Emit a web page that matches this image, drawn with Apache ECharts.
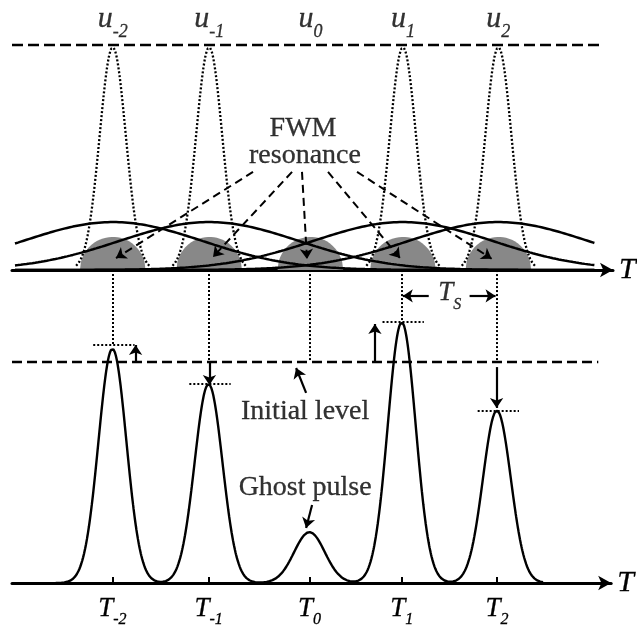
<!DOCTYPE html>
<html>
<head>
<meta charset="utf-8">
<script src="https://cdn.jsdelivr.net/npm/echarts@6/dist/echarts.min.js"></script>
<style>
  html, body { margin: 0; padding: 0; background: #fff; }
  #chart { width: 637px; height: 629px; }
</style>
</head>
<body>
<div id="chart"></div>
<script>
// slot positions on the T axis (in units of Ts) and their subscripts
const slots = [-2.01, -1.01, 0.04, 1.0, 1.99];
const subs = ['-2', '-1', '0', '1', '2'];

// input pulses u_k, normalised to the upper dashed level (u_0 is empty)
const inputPeaks = [0.99, 0.99, null, 0.99, 0.99];
const inputWidth = 0.135;
// broad pulses under the input train
const broadPeak = 0.213;
const broadWidth = 0.93;
// grey FWM overlap regions
const fwmHeight = 0.147;
const fwmHalfWidth = 0.34;

// output pulses, normalised to the initial level
const outputPeaks = [1.06, 0.90, 0.23, 1.18, 0.78];
const outputWidths = [0.145, 0.145, 0.16, 0.145, 0.145];
const markerLevels = [1.08, 0.90, null, 1.18, 0.78];
const initialLevel = 1;

// annotations (T, level)
const fwmArrowStarts = [[-0.555, 0.436], [-0.15, 0.436], [-0.047, 0.436], [0.223, 0.436], [0.524, 0.436]];
const fwmArrowEnds = [[-1.976, 0.053], [-0.97, 0.058], [0.005, 0.049], [0.97, 0.053], [1.92, 0.05]];
const levelArrows = [[-1.769, 1.0, 1.077], [-1.001, 1.0, 0.896], [0.721, 1.0, 1.172], [1.987, 0.977, 0.792]];

const serif = 'Liberation Serif';
const xMin = -3.055, xMax = 3.179;
const levelSpan = [-3.055, 3.045];
const topAxisInBottom = 1.416; // top T axis, in lower panel units

function sample (from, to, step, fn) {
    let pts = [];
    for (let x = from; x <= to + 1e-9; x += step) {
        pts.push([+x.toFixed(4), fn(x)]);
    }
    return pts;
}
const gauss = (x, c, a, w) => a * Math.exp(-(x - c) * (x - c) / (2 * w * w));

// empty line series that only carries a group of markLines
function lineGroup (gi, lines, style, symbols, size) {
    return {
        type: 'line', xAxisIndex: gi, yAxisIndex: gi, data: [], symbol: 'none', silent: true,
        markLine: {
            silent: true, animation: false, symbol: symbols, symbolSize: size,
            label: { show: false }, emphasis: { disabled: true }, lineStyle: style,
            data: lines.map(([a, b]) => [{ coord: a }, { coord: b }])
        }
    };
}

function textGroup (gi, items, rich) {
    return {
        type: 'scatter', xAxisIndex: gi, yAxisIndex: gi, symbolSize: 0.1, silent: true,
        itemStyle: { color: 'transparent' },
        label: { show: true, position: 'inside', color: '#000', fontFamily: serif, rich: rich },
        data: items.map(([x, y, txt]) => ({ value: [x, y], label: { formatter: txt } })),
        z: 10
    };
}

// text styles; a thin black outline makes the serif glyphs as dark as the scan
const ink = { color: '#000', textBorderColor: '#000', textBorderWidth: 0.3, fontFamily: serif };
const rich = {
    n: Object.assign({ fontSize: 28 }, ink),
    u: Object.assign({ fontStyle: 'italic', fontSize: 30, padding: [0, 0, 7, 0], verticalAlign: 'bottom' }, ink),
    us: Object.assign({ fontStyle: 'italic', fontSize: 18, verticalAlign: 'bottom' }, ink),
    t: Object.assign({ fontStyle: 'italic', fontSize: 27, padding: [0, 0, 6, 0], verticalAlign: 'bottom' }, ink),
    ts: Object.assign({ fontStyle: 'italic', fontSize: 16, verticalAlign: 'bottom' }, ink)
};

let series = [];

// ---- upper panel ----
series.push({
    type: 'line', xAxisIndex: 0, yAxisIndex: 0, symbol: 'none', silent: true,
    data: [[levelSpan[0], 1], [levelSpan[1], 1]],
    lineStyle: { color: '#000', width: 2.5, type: [11, 5] }, z: 3
});

slots.forEach((c) => {
    series.push({
        type: 'line', xAxisIndex: 0, yAxisIndex: 0, symbol: 'none', silent: true,
        data: sample(c - fwmHalfWidth, c + fwmHalfWidth, 0.01,
            x => fwmHeight * Math.sqrt(Math.max(0, 1 - Math.pow((x - c) / fwmHalfWidth, 2)))),
        lineStyle: { width: 0 }, areaStyle: { color: '#888', opacity: 1 }, z: 1
    });
});

slots.forEach((c, i) => {
    if (inputPeaks[i] == null) {
        return;
    }
    series.push({
        type: 'line', xAxisIndex: 0, yAxisIndex: 0, symbol: 'none', silent: true,
        data: sample(-3.024, 2.993, 0.01, x => gauss(x, c, broadPeak, broadWidth)),
        lineStyle: { color: '#000', width: 2.5 }, z: 4
    });
    series.push({
        type: 'line', xAxisIndex: 0, yAxisIndex: 0, symbol: 'none', silent: true,
        data: sample(c - 0.38, c + 0.38, 0.005, x => gauss(x, c, inputPeaks[i], inputWidth)),
        lineStyle: { color: '#000', width: 2.3, type: [2, 2] }, z: 4
    });
});

series.push(lineGroup(0, fwmArrowStarts.map((s, i) => [s, fwmArrowEnds[i]]),
    { color: '#000', width: 2, type: [8, 5] }, ['none', 'arrow'], 10));

series.push(textGroup(0, [
    ...slots.map((c, i) => [c, 1.098, '{u|u}{us|' + subs[i] + '}']),
    [-0.036, 0.627, '{n|FWM}'],
    [-0.016, 0.507, '{n|resonance}']
], rich));

// ---- lower panel ----
series.push({
    type: 'line', xAxisIndex: 1, yAxisIndex: 1, symbol: 'none', silent: true,
    data: [[levelSpan[0], initialLevel], [levelSpan[1], initialLevel]],
    lineStyle: { color: '#000', width: 2.6, type: [10, 5] }, z: 3
});

series.push({
    type: 'line', xAxisIndex: 1, yAxisIndex: 1, symbol: 'none', silent: true,
    data: sample(-2.6, 2.47, 0.005,
        x => slots.reduce((s, c, i) => s + gauss(x, c, outputPeaks[i], outputWidths[i]), 0)),
    lineStyle: { color: '#000', width: 2.4 }, z: 4
});

// dotted guides from the upper axis, and level markers at the peaks
let guides = [];
slots.forEach((c, i) => {
    let stop = (i === 0 || i === 3) ? markerLevels[i] : initialLevel;
    guides.push([[c, topAxisInBottom], [c, stop]]);
    if (markerLevels[i] != null) {
        guides.push([[c - 0.2, markerLevels[i]], [c + 0.23, markerLevels[i]]]);
    }
});
series.push(lineGroup(1, guides, { color: '#000', width: 2, type: [2, 2] }, ['none', 'none'], 0));

series.push(lineGroup(1, levelArrows.map(([x, a, b]) => [[x, a], [x, b]]),
    { color: '#000', width: 2.2, type: 'solid' }, ['none', 'arrow'], 10));

series.push(lineGroup(1, [
    [[1.281, 1.299], [1.011, 1.299]],
    [[1.706, 1.299], [1.976, 1.299]],
    [[0.005, 0.86], [-0.099, 0.973]],
    [[0.067, 0.353], [0.005, 0.249]]
], { color: '#000', width: 2.2, type: 'solid' }, ['none', 'arrow'], 10));

series.push(textGroup(1, [
    [1.499, 1.299, '{t|T}{ts|S}'],
    [-0.005, 0.774, '{n|Initial level}'],
    [-0.005, 0.43, '{n|Ghost pulse}']
], rich));

const axisBase = {
    type: 'value', min: xMin, max: xMax,
    splitLine: { show: false },
    axisLine: {
        show: true, onZero: true, symbol: ['none', 'arrow'], symbolSize: [11, 13],
        lineStyle: { color: '#000', width: 3 }
    },
    name: 'T', nameLocation: 'end', nameGap: 6,
    nameTextStyle: { fontFamily: serif, fontStyle: 'italic', fontSize: 30, color: '#000', textBorderColor: '#000', textBorderWidth: 0.3 }
};

const option = {
    animation: false,
    backgroundColor: '#fff',
    grid: [
        { left: 12, right: 24, top: 0, height: 270 },
        { left: 12, right: 24, top: 0, height: 583 }
    ],
    xAxis: [
        Object.assign({}, axisBase, { gridIndex: 0, axisTick: { show: false }, axisLabel: { show: false } }),
        Object.assign({}, axisBase, {
            gridIndex: 1,
            axisTick: { show: true, inside: true, length: 6, customValues: slots, lineStyle: { color: '#000', width: 2 } },
            axisLabel: {
                show: true, margin: 12, customValues: slots, rich: rich,
                formatter: (v) => {
                    let i = slots.findIndex(c => Math.abs(c - v) < 0.02);
                    return i < 0 ? '' : '{t|T}{ts|' + subs[i] + '}';
                }
            }
        })
    ],
    yAxis: [
        { type: 'value', gridIndex: 0, min: 0, max: 1.2, show: false },
        { type: 'value', gridIndex: 1, min: 0, max: 583 / 221, show: false }
    ],
    series: series
};

const chart = echarts.init(document.getElementById('chart'));
chart.setOption(option);
</script>
</body>
</html>
